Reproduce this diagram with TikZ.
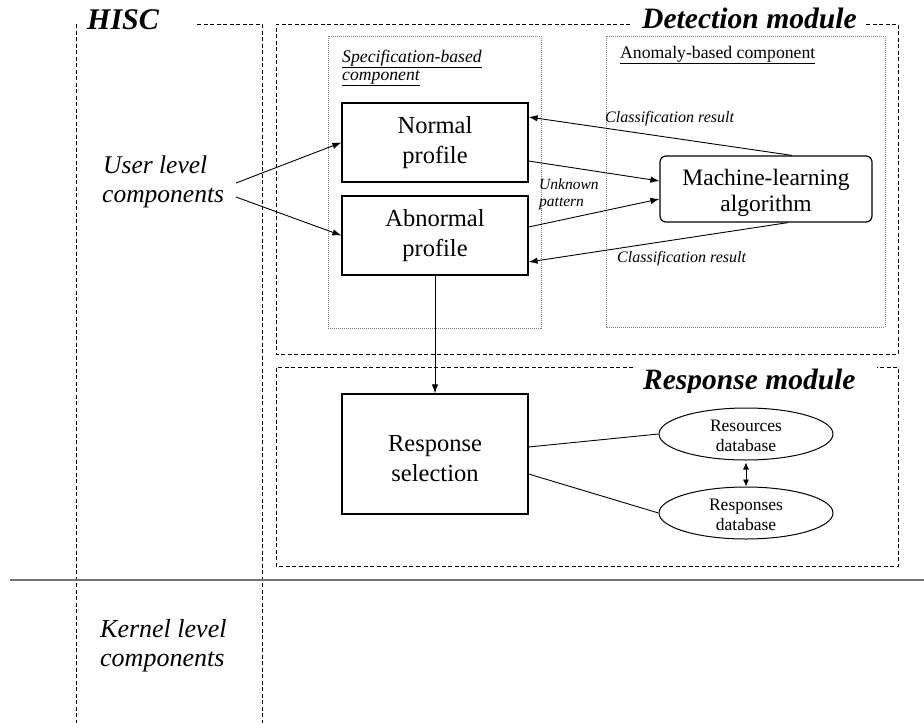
\documentclass[tikz,border=0pt]{standalone}
\usepackage{fontspec}
\setmainfont{Liberation Serif}
\usetikzlibrary{arrows.meta,calc,shapes.geometric}
\newcommand\myfs[2]{\fontsize{#1}{#2}\selectfont}
\begin{document}
\begin{tikzpicture}[x=1pt,y=-1pt,
  modbox/.style={line width=0.9pt, dash pattern=on 4pt off 2.5pt},
  subbox/.style={draw=black!50, line width=0.8pt, dash pattern=on 1pt off 1pt},
  procbox/.style={draw, line width=1.2pt, minimum width=186pt, inner sep=0pt, align=center, font=\myfs{24.5}{29.5}},
  mlbox/.style={draw, line width=1.2pt, rounded corners=6pt, minimum width=212pt, minimum height=66pt, inner sep=0pt, align=center, font=\myfs{23.5}{26}},
  dbnode/.style={ellipse, draw, line width=1pt, minimum width=174pt, minimum height=52pt, inner sep=0pt, align=center, font=\myfs{17.5}{20}},
  txt/.style={inner sep=0pt, anchor=base west},
  title/.style={txt, font=\myfs{30}{34}\bfseries\itshape},
  level/.style={txt, font=\myfs{25.5}{29}\itshape},
  arr/.style={-{Latex[length=9pt,width=6.5pt]}, line width=0.9pt},
  link/.style={line width=0.9pt},
  divider/.style={draw=black!55, line width=1.8pt}
]
\useasboundingbox (0,0) rectangle (924,723);

% HISC column
\draw[modbox] (76,24) -- (76,723);
\draw[modbox] (197,24) -- (262,24) -- (262,723);
\node[title] (hisc) at (87,29) {HISC};

% user / kernel divider
\draw[divider] (10,580) -- (924,580);

% detection module frame
\draw[modbox] (630,24) -- (276,24) -- (276,354) -- (898,354) -- (898,24) -- (866,24);
\node[title, font=\myfs{29.6}{34}\bfseries\itshape] (dettitle) at (642,28) {Detection module};

% response module frame
\draw[modbox] (633,367) -- (276,367) -- (276,566) -- (898,566) -- (898,367) -- (877,367);
\begin{scope}
  \clip (600,350) rectangle (880,392);
  \node[title, font=\myfs{29.5}{34}\bfseries\itshape] (resptitle) at (643,389) {Response module};
\end{scope}

% component sub-frames
\draw[subbox] (328,36) rectangle (541,328);
\draw[subbox] (606,36) rectangle (885,327);
\node[txt, font=\myfs{17.7}{18}\itshape] (spec1) at (342,62) {\underline{Specification-based}};
\node[txt, font=\myfs{17.7}{18}\itshape] (spec2) at (342,80) {\underline{component}};
\node[txt, font=\myfs{17.7}{18}] (anom) at (620,58) {\underline{Anomaly-based component}};

% profiles and learner
\node[procbox, minimum height=79pt] (normal) at (435,142.5) {Normal\\profile};
\node[procbox, minimum height=79pt] (abnormal) at (435,235.5) {Abnormal\\profile};
\node[mlbox] (ml) at (766,189) {\rule{0pt}{24.4pt}Machine-learning\\algorithm};

% response part
\node[procbox, minimum height=120pt] (resp) at (435,454) {\rule{0pt}{25.6pt}Response\\selection};
\node[dbnode] (res) at (746,434) {\rule{0pt}{16pt}Resources\\database};
\node[dbnode] (rsp) at (746,513) {\rule{0pt}{16pt}Responses\\database};

% level labels
\node[level] (user1) at (103,173) {User level};
\node[level] (user2) at (102,202) {components};
\node[level, font=\myfs{26}{29}\itshape] (kern1) at (100,637) {Kernel level};
\node[level, font=\myfs{26}{29}\itshape] (kern2) at (100,666) {components};

\coordinate (u1) at (236,183);
\coordinate (u2) at (236,197);
\draw[arr] (u1) -- (normal.west);
\draw[arr] (u2) -- (abnormal.west);

% detection flows
\draw[arr] ($(ml.north)+(26,0)$) -- ($(normal.east)+(0,-25.5)$);
\draw[arr] ($(normal.east)+(0,18.5)$) -- ($(ml.west)+(0,-8)$);
\draw[arr] ($(abnormal.east)+(0,-8.5)$) -- ($(ml.west)+(0,10)$);
\draw[arr] ($(ml.south)+(22,0)$) -- ($(abnormal.east)+(0,26.5)$);

\node[txt, font=\myfs{16}{17}\itshape] (cls1) at (605,122) {Classification result};
\node[txt, font=\myfs{16}{17}\itshape] (cls2) at (617,262) {Classification result};
\node[txt, font=\myfs{15.5}{17}\itshape] (unk1) at (539,189) {Unknown};
\node[txt, font=\myfs{15.5}{17}\itshape] (unk2) at (539,206) {pattern};

% response flows
\draw[arr] (abnormal.south) -- (resp.north);
\draw[link] ($(resp.east)+(0,-7)$) -- (res.west);
\draw[link] ($(resp.east)+(0,20)$) -- (rsp.west);
\draw[{Latex[length=7pt,width=6pt]}-{Latex[length=7pt,width=6pt]}, line width=0.9pt] ([yshift=-2pt]res.south) -- (rsp.north);
\end{tikzpicture}
\end{document}
